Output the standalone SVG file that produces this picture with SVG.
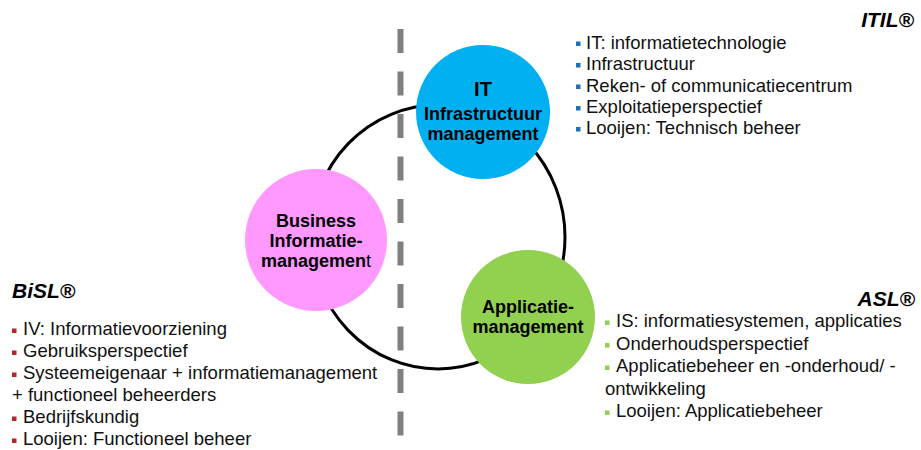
<svg xmlns="http://www.w3.org/2000/svg" width="921" height="450" viewBox="0 0 921 450">
<style>
  text { font-family: "Liberation Sans", Arial, sans-serif; fill: #000; }
  .lbl { font-size: 18px; font-weight: bold; text-anchor: middle; }
  .big { font-size: 20px; }
  .reg { font-weight: normal; }
  .fw { font-size: 21px; font-weight: bold; font-style: italic; }
  .li { font-size: 18.5px; fill: #111; }
  .b-itil { fill: #1f6fb5; }
  .b-bisl { fill: #b3262b; }
  .b-asl { fill: #92d050; }
</style>
<rect width="921" height="450" fill="#fff"/>
<g id="connectors">
  <ellipse cx="438" cy="237" rx="127" ry="132" fill="none" stroke="#000" stroke-width="3"/>
</g>
<g id="divider">
  <line x1="400.5" y1="29" x2="400.5" y2="445" stroke="#808080" stroke-width="6" stroke-dasharray="24 18.5"/>
</g>
<g id="node-it">
  <circle cx="483" cy="112" r="67" fill="#00b0f0"/>
  <text class="lbl big" x="483" y="96">IT</text>
  <text class="lbl" x="483" y="120">Infrastructuur</text>
  <text class="lbl" x="483" y="140">management</text>
</g>
<g id="node-business">
  <circle cx="316" cy="240" r="71" fill="#ff99ff"/>
  <text class="lbl" x="316" y="227">Business</text>
  <text class="lbl" x="316" y="247">Informatie-</text>
  <text class="lbl" x="316" y="267">managemen<tspan class="reg">t</tspan></text>
</g>
<g id="node-app">
  <circle cx="528" cy="317" r="67" fill="#92d050"/>
  <text class="lbl" x="528" y="313">Applicatie-</text>
  <text class="lbl" x="528" y="333">management</text>
</g>
<g id="itil">
  <text class="fw" x="914" y="27" text-anchor="end">ITIL®</text>
  <rect class="b-itil" x="576" y="41.5" width="4.5" height="4.5"/>
  <rect class="b-itil" x="576" y="63" width="4.5" height="4.5"/>
  <rect class="b-itil" x="576" y="84.5" width="4.5" height="4.5"/>
  <rect class="b-itil" x="576" y="106" width="4.5" height="4.5"/>
  <rect class="b-itil" x="576" y="127" width="4.5" height="4.5"/>
  <text class="li" x="586" y="48.5">IT: informatietechnologie</text>
  <text class="li" x="586" y="70">Infrastructuur</text>
  <text class="li" x="586" y="91.5">Reken- of communicatiecentrum</text>
  <text class="li" x="586" y="113">Exploitatieperspectief</text>
  <text class="li" x="586" y="134">Looijen: Technisch beheer</text>
</g>
<g id="bisl">
  <text class="fw" x="12" y="298">BiSL®</text>
  <rect class="b-bisl" x="12" y="328.5" width="4.5" height="4.5"/>
  <rect class="b-bisl" x="12" y="350.5" width="4.5" height="4.5"/>
  <rect class="b-bisl" x="12" y="372.5" width="4.5" height="4.5"/>
  <rect class="b-bisl" x="12" y="416.5" width="4.5" height="4.5"/>
  <rect class="b-bisl" x="12" y="438.5" width="4.5" height="4.5"/>
  <text class="li" x="23" y="335">IV: Informatievoorziening</text>
  <text class="li" x="23" y="357">Gebruiksperspectief</text>
  <text class="li" x="23" y="379">Systeemeigenaar + informatiemanagement</text>
  <text class="li" x="12" y="401">+ functioneel beheerders</text>
  <text class="li" x="23" y="423">Bedrijfskundig</text>
  <text class="li" x="23" y="445">Looijen: Functioneel beheer</text>
</g>
<g id="asl">
  <text class="fw" x="915" y="306" text-anchor="end">ASL®</text>
  <rect class="b-asl" x="605" y="320.5" width="4.5" height="4.5"/>
  <rect class="b-asl" x="605" y="343" width="4.5" height="4.5"/>
  <rect class="b-asl" x="605" y="365.5" width="4.5" height="4.5"/>
  <rect class="b-asl" x="605" y="410.5" width="4.5" height="4.5"/>
  <text class="li" x="616" y="327">IS: informatiesystemen, applicaties</text>
  <text class="li" x="616" y="349.5">Onderhoudsperspectief</text>
  <text class="li" x="616" y="372">Applicatiebeheer en -onderhoud/ -</text>
  <text class="li" x="605" y="395">ontwikkeling</text>
  <text class="li" x="616" y="417">Looijen: Applicatiebeheer</text>
</g>
</svg>
